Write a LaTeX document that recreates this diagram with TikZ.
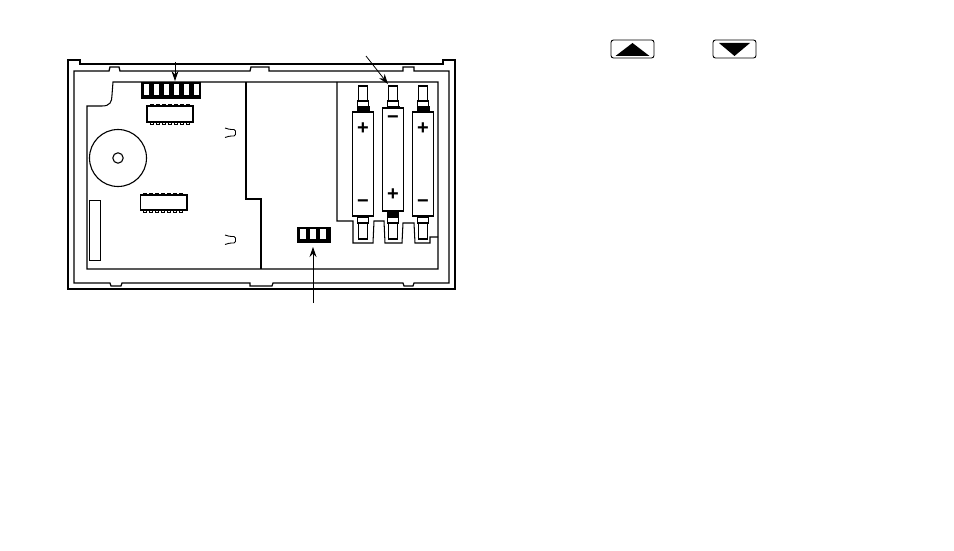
\documentclass[tikz,border=0pt]{standalone}
\usetikzlibrary{arrows.meta}
\usepackage{fontspec}
\setmainfont{Liberation Sans}
\begin{document}
\begin{tikzpicture}[x=1pt,y=-1pt,
  wall/.style={line width=1.7pt,line join=miter},
  rim/.style={line width=1.25pt},
  fine/.style={line width=1.05pt},
  sign/.style={inner sep=0pt,font=\fontsize{20}{20}\selectfont\bfseries},
  pointer/.style={line width=0.8pt,-{Stealth[length=10pt,width=7pt]}},
  window/.style={fill=white,draw=none},
  solid black/.style={fill=black,draw=none},
  pin/.style={line width=0.8pt,fill=white}]
\useasboundingbox (0,0) rectangle (954,551);
% outer case
\draw[wall] (68,289) -- (68,60) -- (80,60) -- (80,64) -- (443,64) -- (443,60) -- (455,60) -- (455,289) -- cycle;
% inner rim
\draw[rim] (74,283) -- (74,71) -- (109,71) -- (110,67) -- (119,67) -- (120,71) -- (250,71) -- (251,67) -- (269,67) -- (269,71) -- (403,71) -- (403,67) -- (414,67) -- (414,71) -- (449,71) -- (449,283) -- (414,283) -- (413,286) -- (404,286) -- (403,283) -- (273,283) -- (272,286) -- (250,286) -- (250,283) -- (122,283) -- (121,286) -- (111,286) -- (110,283) -- cycle;
% board outline
\draw[fine] (87,269) -- (87,106) -- (102,106) .. controls (110,106) and (112,102) .. (112,95) -- (113,82) -- (438,82) -- (438,269) -- cycle;
\draw[fine] (246,82) -- (246,199) -- (261,199) -- (261,269);
% battery compartment
\draw[fine] (337,82) -- (337,221) -- (353,221) -- (353,243) -- (373,243) -- (374,221) -- (384,221) -- (385,243) -- (402,243) -- (403,223) -- (414,223) -- (415,243) -- (430,243) -- (430,237) -- (438,237);
% batteries
\foreach \cx/\t in {363/112,393/108,423/112}{
  \draw[fine] (\cx-4.5,86) rectangle (\cx+4.5,101);
  \draw[fine] (\cx-5.5,101) rectangle (\cx+5.5,107);
  \draw[fine] (\cx-4.5,223) rectangle (\cx+4.5,239);
  \draw[fine] (\cx-5.5,217) rectangle (\cx+5.5,223);
  \fill[solid black] (\cx-6.5,106.5) rectangle (\cx+6.5,\t);
}
\fill[solid black] (387,211) rectangle (399,215.5);
\draw[wall,fill=white] (352.5,112) rectangle (373.5,216);
\draw[wall,fill=white] (382.5,108) rectangle (403.5,211);
\draw[wall,fill=white] (412.5,112) rectangle (433.5,216);
\node[sign] (pa) at (363,129) {+};
\node[sign] (ma) at (363,204) {−};
\node[sign] (mb) at (393,119.5) {−};
\node[sign] (pb) at (393,195) {+};
\node[sign] (pc) at (423,129) {+};
\node[sign] (mc) at (423,204) {−};
% speaker
\draw[line width=1.1pt] (118,158) circle (28.5);
\draw[line width=1.1pt] (118,158) circle (5.2);
% connector strip on the side
\draw[line width=1pt] (89,200) rectangle (100,260);
% chips
\foreach \i in {0,...,6}{
  \draw[pin] (150+\i*6.05,104) rectangle +(3.5,3);
  \draw[pin] (150+\i*6.05,121) rectangle +(3.5,3.5);
  \draw[pin] (143+\i*6.05,193.5) rectangle +(3.5,3);
  \draw[pin] (143+\i*6.05,209) rectangle +(3.5,3.5);
}
\draw[line width=1.3pt,fill=white] (147,106) rectangle (193,122);
\draw[line width=1.3pt,fill=white] (140.5,195) rectangle (187,210);
% top connector
\fill[solid black] (141,82.5) rectangle (201,99);
\foreach \a/\b in {144/149,154/159,164/169,173.5/179,184/189,193.5/199}{\fill[window] (\a,84) rectangle (\b,95);}
\coordinate (topbox) at (175,81);
\coordinate (topfree) at (175,62);
\draw[pointer] (topfree) -- (topbox);
% lower connector
\fill[solid black] (297,227) rectangle (331,243);
\foreach \a/\b in {300/305.5,310/316,320/325.5}{\fill[window] (\a,228.5) rectangle (\b,239);}
\coordinate (lowbox) at (313,247);
\coordinate (lowfree) at (313,303);
\draw[pointer] (lowfree) -- (lowbox);
% battery arrow
\coordinate (battop) at (388,84);
\coordinate (batfree) at (366,56);
\draw[pointer] (batfree) -- (battop);
% clips
\foreach \y in {128,235}{
  \draw[line width=0.9pt,rounded corners=1.5pt] (225,\y) -- (230,\y+1.5) -- (235.5,\y+1.5) -- (235.5,\y+8) -- (230,\y+8) -- (225,\y+9.5);
}
% buttons
\draw[line width=0.9pt,rounded corners=2.5pt] (611,40) rectangle (654,58);
\fill[solid black] (632.5,43) -- (649.5,56) -- (615.5,56) -- cycle;
\draw[line width=0.9pt,rounded corners=2.5pt] (713,40) rectangle (756,58);
\fill[solid black] (719,43) -- (750,43) -- (734.5,56) -- cycle;
\end{tikzpicture}
\end{document}
